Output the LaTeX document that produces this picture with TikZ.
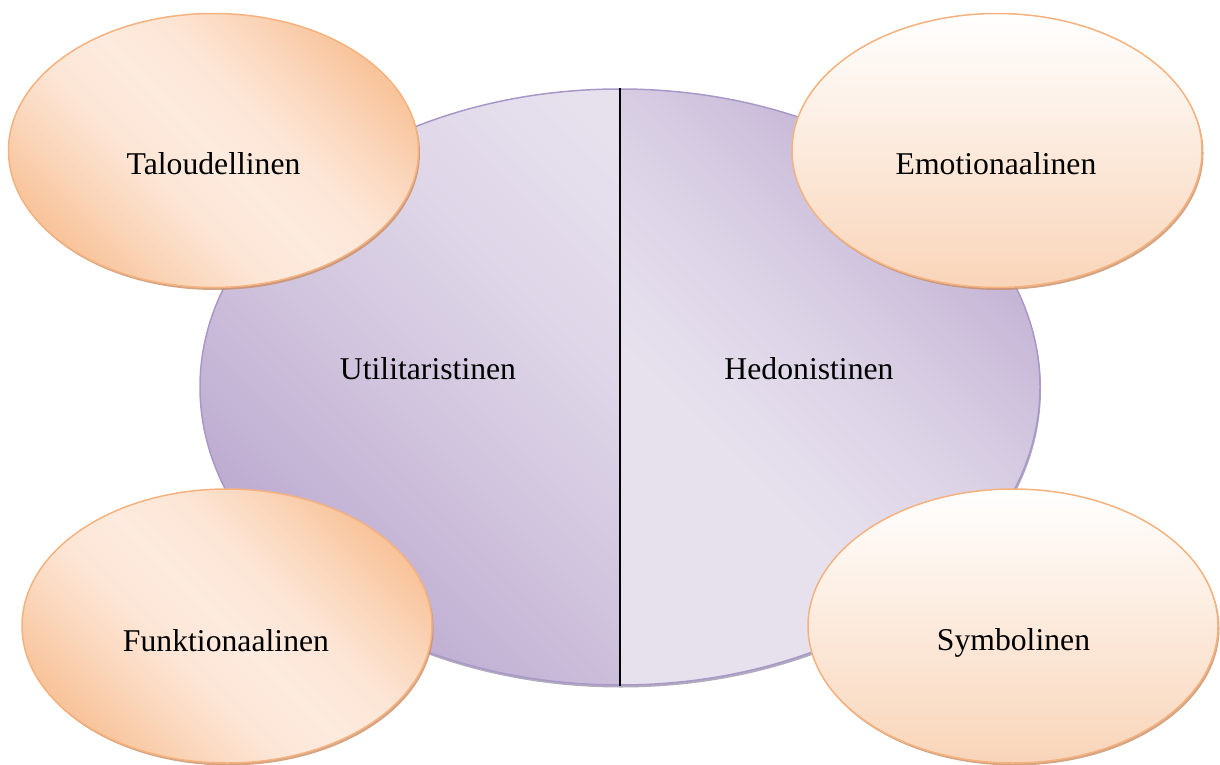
\documentclass[tikz,border=0pt]{standalone}
\usepackage{fontspec}
\setmainfont{Liberation Serif}
\usetikzlibrary{shapes.geometric,shadows}

\definecolor{peachDark}{HTML}{F8C49B}
\definecolor{peachLight}{HTML}{FDEBDF}
\definecolor{peachBottom}{HTML}{F9D5B9}
\definecolor{peachEdge}{HTML}{F5B27E}
\definecolor{peachShade}{HTML}{C98E66}
\definecolor{lilacDark}{HTML}{BDABD0}
\definecolor{lilacLight}{HTML}{E7E1EE}
\definecolor{lilacEdge}{HTML}{A898C8}
\definecolor{lilacShade}{HTML}{9088A0}

% soft light band across the middle, darker towards both ends
\pgfdeclarehorizontalshading{peachband}{100bp}{color(0bp)=(peachDark); color(25bp)=(peachDark);
  color(33bp)=(peachDark!55!peachLight); color(41bp)=(peachDark!15!peachLight);
  color(50bp)=(peachLight);
  color(59bp)=(peachDark!15!peachLight); color(67bp)=(peachDark!55!peachLight);
  color(75bp)=(peachDark); color(100bp)=(peachDark)}
% dark corner fading into a wide light area
\pgfdeclarehorizontalshading{lilacramp}{100bp}{color(0bp)=(lilacDark); color(25bp)=(lilacDark);
  color(38bp)=(lilacDark!55!lilacLight); color(50bp)=(lilacDark!20!lilacLight);
  color(62bp)=(lilacLight); color(100bp)=(lilacLight)}

\begin{document}
\begin{tikzpicture}[x=1pt,y=-1pt,
  word/.style={font=\fontsize{31.7}{38}\selectfont, inner sep=0pt, anchor=base},
  hub/.style={ellipse, draw=lilacEdge, line width=1.5pt,
    minimum width=840pt, minimum height=596pt, inner sep=0pt, fill=lilacLight,
    drop shadow={shadow xshift=1pt, shadow yshift=-2.5pt, fill=lilacShade, opacity=0.7},
    path picture={
      \shade[shading=lilacramp, shading angle=45]
        (path picture bounding box.north west) rectangle (path picture bounding box.south);
      \shade[shading=lilacramp, shading angle=225]
        (path picture bounding box.north) rectangle (path picture bounding box.south east);
    }},
  bubble/.style={ellipse, draw=peachEdge, line width=1.5pt,
    minimum width=410pt, minimum height=274pt, inner sep=0pt,
    drop shadow={shadow xshift=1.5pt, shadow yshift=-2.5pt, fill=peachShade, opacity=0.8}},
  diagfill/.style={shading=peachband, shading angle=45},
  vertfill/.style={top color=white, bottom color=peachBottom},
  divider/.style={draw=black, line width=1.6pt}
]
\useasboundingbox (0,0) rectangle (1220,765);

% central ellipse split into two halves
\node[hub] (core) at (620,387) {};
\draw[divider] (core.north) -- (core.south);
\node[word] (util) at (428,379) {Utilitaristinen};
\node[word] (hedo) at (809,379) {Hedonistinen};

% four surrounding ellipses
\node[bubble, diagfill] (talo) at (213.5,150.5) {};
\node[word] (talot) at (213.5,174) {Taloudellinen};

\node[bubble, vertfill] (emo) at (997,150.5) {};
\node[word] (emot) at (996,174) {Emotionaalinen};

\node[bubble, diagfill] (funk) at (227,626) {};
\node[word] (funkt) at (226,651) {Funktionaalinen};

\node[bubble, vertfill] (sym) at (1013,626) {};
\node[word] (symt) at (1013.5,650) {Symbolinen};
\end{tikzpicture}
\end{document}
